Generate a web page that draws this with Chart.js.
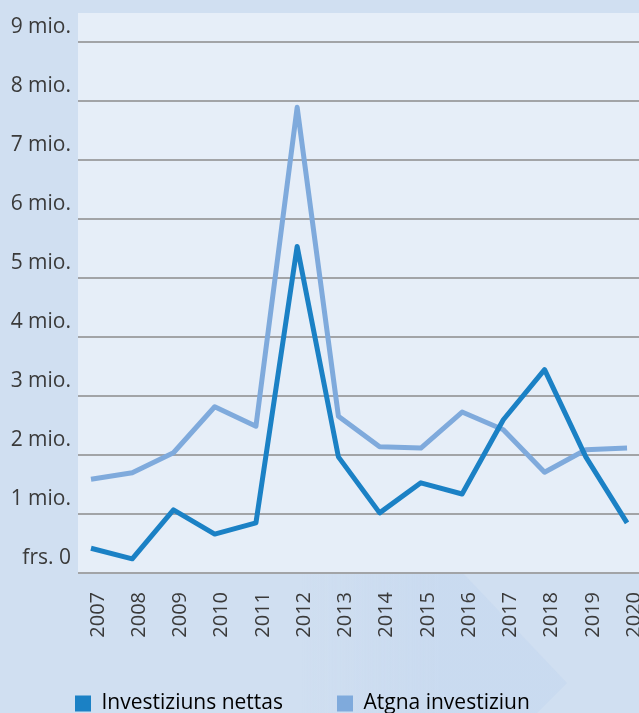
<!DOCTYPE html>
<html>
<head>
<meta charset="utf-8">
<script src="https://cdn.jsdelivr.net/npm/chart.js@4/dist/chart.umd.min.js"></script>
<style>
  html, body { margin: 0; padding: 0; background: #d0dff1; }
  #wrap { position: relative; width: 639px; height: 713px; }
</style>
</head>
<body>
<div id="wrap"><canvas id="chart"></canvas></div>
<script>
const years = [2007, 2008, 2009, 2010, 2011, 2012, 2013, 2014, 2015, 2016, 2017, 2018, 2019, 2020];
// values in millions of francs
const nettas = [0.42, 0.24, 1.07, 0.66, 0.85, 5.54, 1.97, 1.02, 1.53, 1.34, 2.6, 3.45, 1.97, 0.85];
const atgna = [1.59, 1.70, 2.04, 2.82, 2.49, 7.90, 2.66, 2.14, 2.12, 2.73, 2.43, 1.71, 2.09, 2.12];
const yTicks = [0, 1, 2, 3, 4, 5, 6, 7, 8, 9];
const seriesNames = ['Investiziuns nettas', 'Atgna investiziun'];

const textColor = '#3a3a3a';
const font = { family: 'Open Sans', size: 21 };
const xFont = { family: 'Open Sans', size: 20 };

const backdrop = {
  id: 'backdrop',
  beforeDraw(chart) {
    const { ctx, chartArea } = chart;
    ctx.save();
    // faint chevron in the lower band
    const grad = ctx.createLinearGradient(300, 0, 440, 0);
    grad.addColorStop(0, 'rgba(190, 211, 238, 0)');
    grad.addColorStop(1, 'rgba(190, 211, 238, 0.35)');
    ctx.fillStyle = grad;
    ctx.beginPath();
    ctx.moveTo(300, chartArea.bottom);
    ctx.lineTo(463, chartArea.bottom);
    ctx.lineTo(567, 683);
    ctx.lineTo(537, 713);
    ctx.lineTo(300, 713);
    ctx.closePath();
    ctx.fill();
    ctx.fillStyle = '#e6eef8';
    ctx.fillRect(chartArea.left, chartArea.top, chartArea.right - chartArea.left, chartArea.bottom - chartArea.top);
    ctx.restore();
  },
  afterLayout(chart) {
    const lg = chart.legend;
    lg.left += 21;
    lg.right += 21;
    lg.top -= 14;
    lg.bottom -= 14;
  }
};

new Chart(document.getElementById('chart'), {
  type: 'line',
  data: {
    datasets: [
      {
        label: seriesNames[0],
        data: years.map((y, i) => ({ x: y, y: nettas[i] })),
        borderColor: '#1b81c5',
        backgroundColor: '#1b81c5',
        borderWidth: 5,
        pointRadius: 0,
        borderJoinStyle: 'round',
        tension: 0
      },
      {
        label: seriesNames[1],
        data: years.map((y, i) => ({ x: y, y: atgna[i] })),
        borderColor: '#7faadc',
        backgroundColor: '#7faadc',
        borderWidth: 5,
        pointRadius: 0,
        borderJoinStyle: 'round',
        tension: 0
      }
    ]
  },
  options: {
    responsive: true,
    maintainAspectRatio: false,
    animation: false,
    layout: { padding: { top: 13, left: 0, right: 0, bottom: -25 } },
    plugins: {
      tooltip: { enabled: false },
      legend: {
        position: 'bottom',
        align: 'start',
        labels: {
          boxWidth: 16,
          boxHeight: 16,
          padding: 54,
          color: textColor,
          font,
          generateLabels: (chart) => chart.data.datasets.map((ds, i) => ({
            text: ds.label,
            fillStyle: ds.borderColor,
            strokeStyle: ds.borderColor,
            lineWidth: 0,
            hidden: false,
            datasetIndex: i
          }))
        }
      }
    },
    scales: {
      x: {
        type: 'linear',
        min: 2006.685,
        max: 2020.29,
        afterBuildTicks: (scale) => { scale.ticks = years.map((v) => ({ value: v })); },
        afterFit: (scale) => {
          scale.height = 80;
          scale.paddingLeft = 0;
          scale.paddingRight = 0;
        },
        grid: { display: false, drawTicks: false },
        border: { display: false },
        ticks: {
          autoSkip: false,
          minRotation: 90,
          maxRotation: 90,
          padding: 19,
          labelOffset: 7,
          color: textColor,
          font: xFont,
          callback: (v) => String(v)
        }
      },
      y: {
        min: 0,
        max: 9.5,
        afterBuildTicks: (scale) => { scale.ticks = yTicks.map((v) => ({ value: v })); },
        afterFit: (scale) => {
          scale.width = 78;
          scale.paddingTop = 0;
          scale.paddingBottom = 0;
        },
        grid: { color: '#a2a4a7', lineWidth: 2, drawTicks: false },
        border: { display: false },
        ticks: {
          padding: 7,
          labelOffset: -15,
          color: textColor,
          font,
          callback: (v) => (v === 0 ? 'frs. 0' : v + ' mio.')
        }
      }
    }
  },
  plugins: [backdrop]
});
</script>
</body>
</html>
